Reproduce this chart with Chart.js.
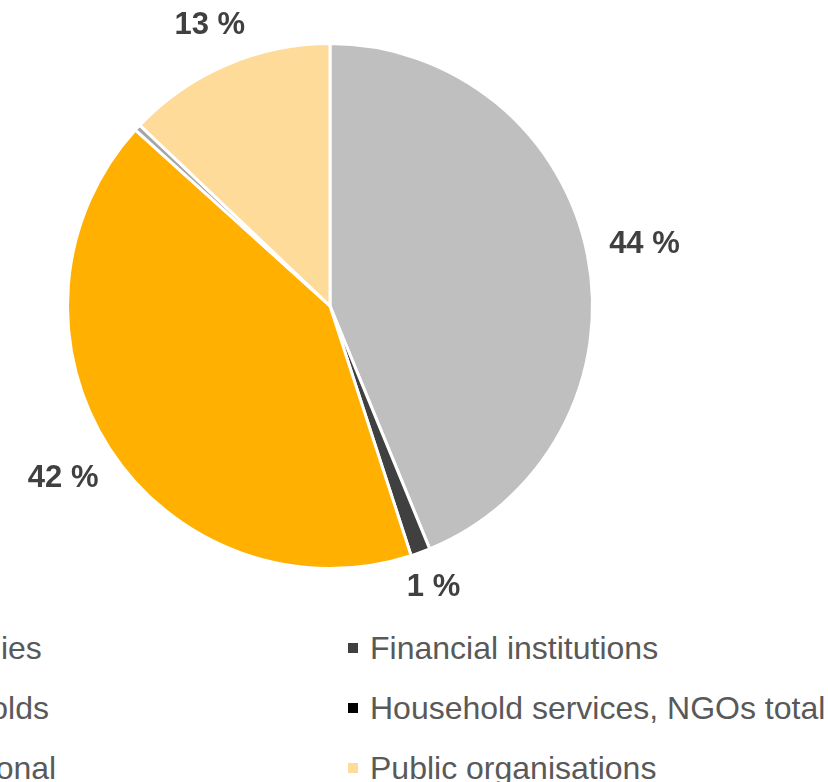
<!DOCTYPE html>
<html>
<head>
<meta charset="utf-8">
<script src="https://cdn.jsdelivr.net/npm/chart.js@4.4.0/dist/chart.umd.min.js"></script>
<style>
    body { margin: 0; background: #fff; overflow: hidden; font-family: "Liberation Sans", Arial, sans-serif; }
    #wrap { position: absolute; left: -170px; top: 0; width: 1000px; height: 614px; }
    #legend { position: absolute; left: -142px; top: 628px; display: grid; grid-template-columns: 490px 490px; row-gap: 20px; }
    .item { display: flex; align-items: center; height: 40px; font-size: 32px; color: #595959; white-space: nowrap; }
    .box { width: 10px; height: 10px; margin-right: 12px; flex: none; }
</style>
</head>
<body>
<div id="wrap"><canvas id="pie"></canvas></div>
<div id="legend"></div>
<script>
const Sectors = ['Companies', 'Financial institutions', 'Households', 'Household services, NGOs total', 'International', 'Public organisations'];
const Shares = [43.8, 1.2, 41.7, 0, 0.4, 12.9];
const Colors = ['#BFBFBF', '#404040', '#FFB000', '#000000', '#A6A6A6', '#FFDB99'];

const pctLabels = {
    id: 'pctLabels',
    afterDraw(chart) {
        const ctx = chart.ctx;
        const total = Shares.reduce((a, b) => a + b, 0);
        ctx.save();
        ctx.font = 'bold 31px "Liberation Sans", Arial, sans-serif';
        ctx.fillStyle = '#404040';
        ctx.textAlign = 'center';
        ctx.textBaseline = 'middle';
        chart.getDatasetMeta(0).data.forEach((arc, i) => {
            const pct = Shares[i] / total * 100;
            if (pct < 0.5) return;
            const { x, y, startAngle, endAngle, outerRadius } = arc.getProps(['x', 'y', 'startAngle', 'endAngle', 'outerRadius'], true);
            const mid = (startAngle + endAngle) / 2;
            const text = Math.round(pct) + ' %';
            const w = ctx.measureText(text).width;
            const ext = Math.abs(Math.cos(mid)) * w / 2 + Math.abs(Math.sin(mid)) * 7;
            const d = outerRadius + 22 + ext;
            ctx.fillText(text, x + Math.cos(mid) * d, y + Math.sin(mid) * d);
        });
        ctx.restore();
    }
};

function legend() {
    const el = document.querySelector('#legend');
    Sectors.forEach((name, i) => {
        const item = document.createElement('div');
        item.className = 'item';
        const box = document.createElement('span');
        box.className = 'box';
        box.style.background = Colors[i];
        item.appendChild(box);
        item.appendChild(document.createTextNode(name));
        el.appendChild(item);
    });
}

new Chart(document.querySelector('#pie'), {
    type: 'pie',
    data: {
        labels: Sectors,
        datasets: [{
            data: Shares,
            backgroundColor: Colors,
            borderColor: '#ffffff',
            borderWidth: 3
        }]
    },
    options: {
        responsive: true,
        maintainAspectRatio: false,
        animation: false,
        layout: { padding: { top: 42, bottom: 44 } },
        plugins: {
            legend: { display: false },
            tooltip: { enabled: false }
        }
    },
    plugins: [pctLabels]
});
legend();
</script>
</body>
</html>
